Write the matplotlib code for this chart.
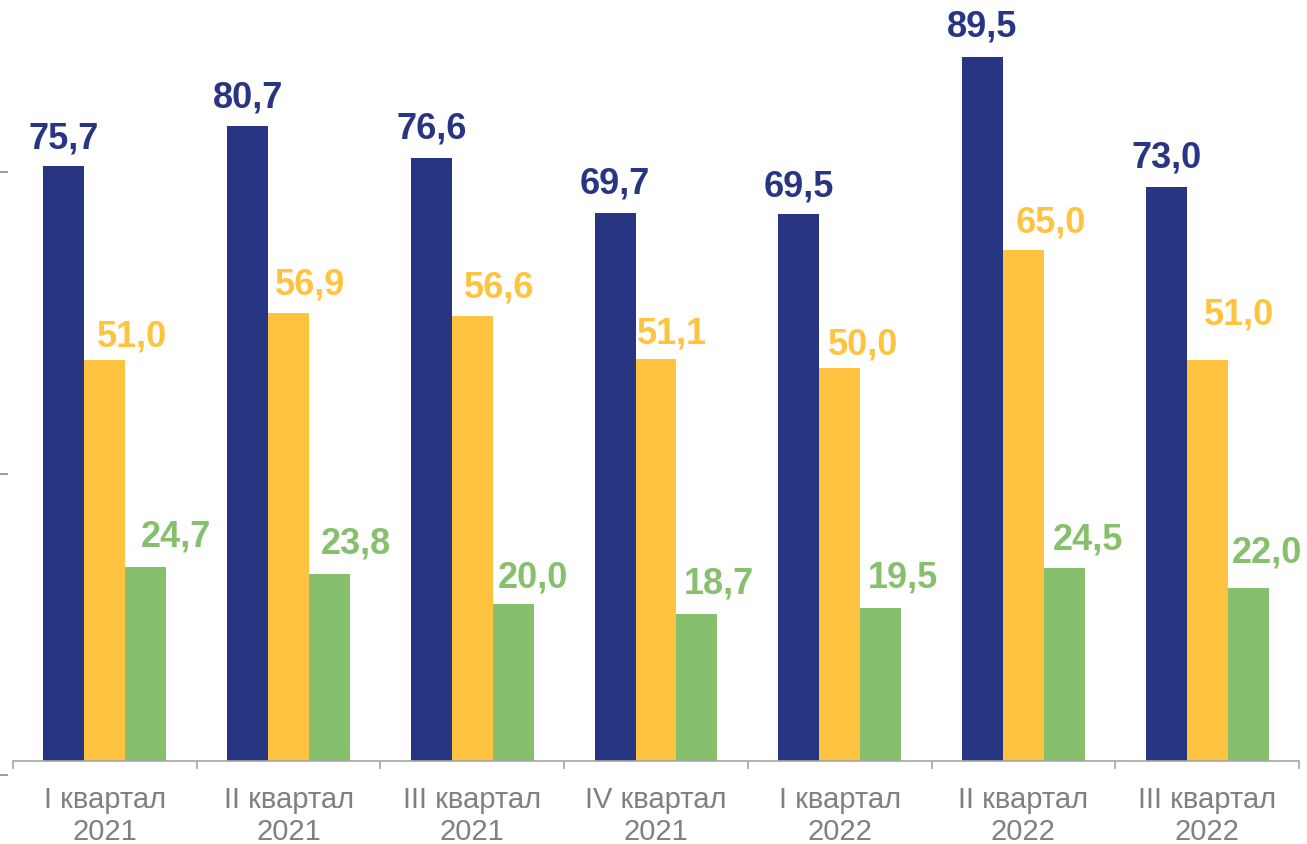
import matplotlib
matplotlib.use("Agg")
import matplotlib.pyplot as plt
import numpy as np

categories = ["I квартал\n2021", "II квартал\n2021", "III квартал\n2021", "IV квартал\n2021",
              "I квартал\n2022", "II квартал\n2022", "III квартал\n2022"]
navy_vals = [75.7, 80.7, 76.6, 69.7, 69.5, 89.5, 73.0]
yellow_vals = [51.0, 56.9, 56.6, 51.1, 50.0, 65.0, 51.0]
green_vals = [24.7, 23.8, 20.0, 18.7, 19.5, 24.5, 22.0]

# label offsets (pixels) from the top-centre of each bar, as placed in the original
navy_dx = [0, 0, 0, 0, 0, 0, 0]
navy_dy = [17, 19, 20, 19, 18, 20, 19]
yellow_dx = [27, 21.5, 27, 16, 23, 27, 32]
yellow_dy = [13, 19, 18, 16, 13, 17, 35]
green_dx = [30, 26.5, 19.5, 22, 22, 24, 18.5]
green_dy = [20, 20, 16, 20, 20, 19, 25]

NAVY = "#283583"
YELLOW = "#FFC33F"
GREEN = "#86C06C"
GREY = "#808080"

plt.rcParams['font.family'] = ['Liberation Sans', 'DejaVu Sans']

W, H, DPI = 1307, 844, 100
fig = plt.figure(figsize=(W / DPI, H / DPI), dpi=DPI)

left_px, right_px, base_px = 13, 1299, 761
ax = fig.add_axes([left_px / W, (H - base_px) / H, (right_px - left_px) / W, base_px / H])

x = np.arange(len(categories))
bw = 0.223
px = 72 / DPI  # points per pixel

series = [
    (navy_vals, NAVY, -bw, navy_dx, navy_dy),
    (yellow_vals, YELLOW, 0, yellow_dx, yellow_dy),
    (green_vals, GREEN, bw, green_dx, green_dy),
]
for vals, col, off, dxs, dys in series:
    ax.bar(x + off, vals, width=bw, color=col, edgecolor='none', zorder=2)
    for xi, v, dx, dy in zip(x + off, vals, dxs, dys):
        ax.annotate(f"{v:.1f}".replace(".", ","), (xi, v), xytext=(dx * px, dy * px),
                    textcoords='offset points', ha='center', va='baseline',
                    fontsize=26, fontweight='bold', color=col, annotation_clip=False)

ax.set_xlim(-0.5, len(categories) - 0.5)
ax.set_ylim(0, base_px / 7.866)
for s in ['top', 'right', 'left']:
    ax.spines[s].set_visible(False)
ax.spines['bottom'].set_color('#A6A6A6')
ax.spines['bottom'].set_linewidth(1.2)
ax.set_yticks([])
ax.set_xticks(x)
ax.set_xticklabels(categories, fontsize=21, color=GREY, linespacing=1.2)
ax.tick_params(axis='x', which='major', length=0, pad=18)
ax.set_xticks(np.arange(-0.5, len(categories), 1.0), minor=True)
ax.tick_params(axis='x', which='minor', length=6, width=1.2, color='#A6A6A6', direction='out')

# left tick marks (unlabelled axis)
ax2 = fig.add_axes([8 / W, (H - 775) / H, 0.001, (775 - 172) / H])
ax2.set_ylim(0, 2)
ax2.set_yticks([0, 1, 2])
ax2.set_yticklabels([])
ax2.set_xticks([])
for s in ax2.spines.values():
    s.set_visible(False)
ax2.tick_params(axis='y', length=5.5, width=1.2, color='#8C8C8C', direction='out')
ax2.patch.set_alpha(0)

fig.savefig("out.png", dpi=DPI)
